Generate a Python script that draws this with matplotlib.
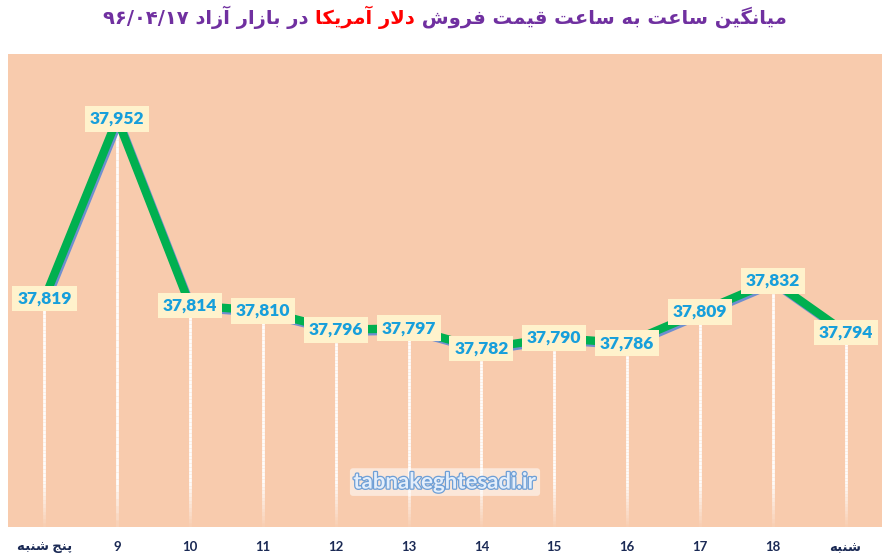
import matplotlib
matplotlib.use("Agg")
import matplotlib.pyplot as plt
import matplotlib.patheffects as pe
from matplotlib.collections import LineCollection
from matplotlib.offsetbox import TextArea, HPacker, AnchoredOffsetbox
import numpy as np

# ---------------- data ----------------
categories = ["پنج شنبه", "9", "10", "11", "12", "13", "14", "15", "16", "17", "18", "شنبه"]
values = [37819, 37952, 37814, 37810, 37796, 37797, 37782, 37790, 37786, 37809, 37832, 37794]
title_right = "میانگین ساعت به ساعت قیمت فروش"
title_red = "دلار آمریکا"
title_left = "در بازار آزاد"
title_date = "۹۶/۰۴/۱۷"
watermark = "tabnakeghtesadi.ir"
y_min, y_max = 37650, 38000

# ------------- simple Persian shaping (presentation forms) -------------
FORMS = {
    '\u0627': ('\uFE8D', '\uFE8E', None, None),
    '\u0622': ('\uFE81', '\uFE82', None, None),
    '\u062F': ('\uFEA9', '\uFEAA', None, None),
    '\u0631': ('\uFEAD', '\uFEAE', None, None),
    '\u0632': ('\uFEAF', '\uFEB0', None, None),
    '\u0648': ('\uFEED', '\uFEEE', None, None),
    '\u0628': ('\uFE8F', '\uFE90', '\uFE91', '\uFE92'),
    '\u062A': ('\uFE95', '\uFE96', '\uFE97', '\uFE98'),
    '\u062C': ('\uFE9D', '\uFE9E', '\uFE9F', '\uFEA0'),
    '\u0633': ('\uFEB1', '\uFEB2', '\uFEB3', '\uFEB4'),
    '\u0634': ('\uFEB5', '\uFEB6', '\uFEB7', '\uFEB8'),
    '\u0639': ('\uFEC9', '\uFECA', '\uFECB', '\uFECC'),
    '\u0641': ('\uFED1', '\uFED2', '\uFED3', '\uFED4'),
    '\u0642': ('\uFED5', '\uFED6', '\uFED7', '\uFED8'),
    '\u06A9': ('\uFB8E', '\uFB8F', '\uFB90', '\uFB91'),
    '\u06AF': ('\uFB92', '\uFB93', '\uFB94', '\uFB95'),
    '\u0644': ('\uFEDD', '\uFEDE', '\uFEDF', '\uFEE0'),
    '\u0645': ('\uFEE1', '\uFEE2', '\uFEE3', '\uFEE4'),
    '\u0646': ('\uFEE5', '\uFEE6', '\uFEE7', '\uFEE8'),
    '\u0647': ('\uFEE9', '\uFEEA', '\uFEEB', '\uFEEC'),
    '\u06CC': ('\uFBFC', '\uFBFD', '\uFBFE', '\uFBFF'),
    '\u067E': ('\uFB56', '\uFB57', '\uFB58', '\uFB59'),
}


def _dual(c):
    return c in FORMS and FORMS[c][2] is not None


def shape(s):
    res = []
    n = len(s)
    i = 0
    while i < n:
        c = s[i]
        if c not in FORMS:
            res.append(c)
            i += 1
            continue
        jp = i > 0 and _dual(s[i - 1])
        if c == '\u0644' and i + 1 < n and s[i + 1] in ('\u0627', '\u0622'):
            lig = ('\uFEFB', '\uFEFC') if s[i + 1] == '\u0627' else ('\uFEF5', '\uFEF6')
            res.append(lig[1] if jp else lig[0])
            i += 2
            continue
        jn = _dual(c) and i + 1 < n and s[i + 1] in FORMS
        iso, fin, ini, med = FORMS[c]
        if jp and jn:
            res.append(med)
        elif jp:
            res.append(fin)
        elif jn:
            res.append(ini)
        else:
            res.append(iso)
        i += 1
    return ''.join(res)


def rtl(s):
    if not any(c in FORMS for c in s):
        return s
    return shape(s)[::-1]


# ---------------- figure ----------------
fig = plt.figure(figsize=(8.87, 5.58), dpi=100)
fig.patch.set_facecolor("white")
ax = fig.add_axes([8 / 887, 31 / 558, 874 / 887, 473 / 558])
ax.set_facecolor("#F8CBAD")
for s in ax.spines.values():
    s.set_visible(False)

x = np.arange(len(values))
ax.set_xlim(-0.5, len(values) - 0.5)
ax.set_ylim(y_min, y_max)
ax.set_yticks([])

# drop lines with fade near the bottom
for xi, v in zip(x, values):
    ys = np.linspace(v, y_min, 60)
    segs = [[(xi, ys[k]), (xi, ys[k + 1])] for k in range(len(ys) - 1)]
    frac = (ys[:-1] - y_min) / (y_max - y_min)
    alphas = np.clip(frac / 0.10, 0.0, 1.0) * 0.97
    cols = [(1, 1, 1, a) for a in alphas]
    ax.add_collection(LineCollection(segs, colors=cols, linewidths=2.0, zorder=2))

# main line with blue shadow
ax.plot(x, values, color="#00B050", lw=6, solid_joinstyle="miter", zorder=3,
        path_effects=[pe.SimpleLineShadow(offset=(1.2, -1.6), shadow_color="#6F8FD0", alpha=1.0, rho=1.0),
                      pe.Normal()])

# data labels
for xi, v in zip(x, values):
    ax.text(xi, v, f"{v:,}", ha="center", va="center", fontsize=12.5, fontweight="heavy",
            family=["Lato", "DejaVu Sans"], color="#179FDB", zorder=5,
            bbox=dict(boxstyle="square,pad=0.28", fc="#FFF2CC", ec="none"))

# x tick labels
ax.set_xticks(x)
ax.set_xticklabels([rtl(c) for c in categories], fontsize=9.5, fontweight="bold",
                   color="#1B2A55", family=["Lato", "DejaVu Sans"])
ax.tick_params(axis="x", length=0, pad=10)

# watermark
ax.text(0.5, 0.095, watermark, transform=ax.transAxes, ha="center", va="center",
        fontsize=16, fontweight="bold", family=["Lato", "DejaVu Sans"], color="#E4EEFA", zorder=4,
        bbox=dict(boxstyle="round,pad=0.15", fc="white", ec="none", alpha=0.55),
        path_effects=[pe.withStroke(linewidth=1.8, foreground="#6E9FD6")])

# title (visual order left -> right)
purple = "#7030A0"
tprops = dict(fontsize=14, fontweight="bold", family=["DejaVu Sans"])
left_vis = title_date + " " + rtl(title_left) + " "
mid_vis = rtl(title_red)
right_vis = " " + rtl(title_right)
parts = [TextArea(left_vis, textprops=dict(color=purple, **tprops)),
         TextArea(mid_vis, textprops=dict(color="#FF0000", **tprops)),
         TextArea(right_vis, textprops=dict(color=purple, **tprops))]
box = HPacker(children=parts, align="baseline", pad=0, sep=0)
anch = AnchoredOffsetbox(loc="center", child=box, frameon=False,
                         bbox_to_anchor=(445 / 887, 1 - 17 / 558), bbox_transform=fig.transFigure,
                         borderpad=0, pad=0)
fig.add_artist(anch)

fig.savefig("out.png", dpi=100, facecolor="white")
